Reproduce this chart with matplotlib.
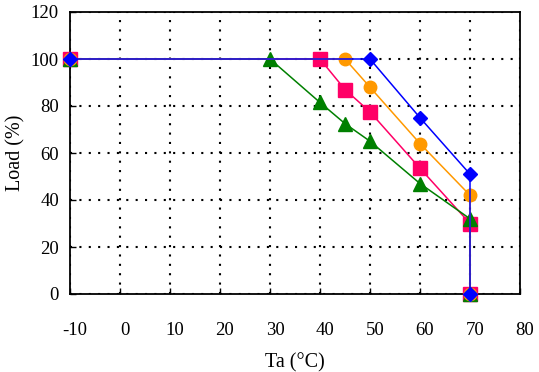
import matplotlib.pyplot as plt
import matplotlib.transforms as mtransforms

plt.rcParams['font.family'] = ['Liberation Serif', 'DejaVu Serif']
plt.rcParams['axes.unicode_minus'] = False

# blue diamonds
ta_blue = [-10, 50, 60, 70, 70]
load_blue = [100, 100, 75, 51, 0]
# orange circles
ta_orange = [-10, 45, 50, 60, 70, 70]
load_orange = [100, 100, 88, 64, 42, 0]
# pink squares
ta_pink = [-10, 40, 45, 50, 60, 70, 70]
load_pink = [100, 100, 87, 77.5, 53.5, 30, 0]
# green triangles
ta_green = [-10, 30, 40, 45, 50, 60, 70, 70]
load_green = [100, 100, 81.5, 72.5, 65, 47, 32, 0]

xticks = [-10, 0, 10, 20, 30, 40, 50, 60, 70, 80]
yticks = [0, 20, 40, 60, 80, 100, 120]

fig = plt.figure(figsize=(5.39, 3.72), dpi=100)
ax = fig.add_axes([70/539, 78/372, 450/539, 282/372])

ax.plot(ta_pink, load_pink, color='#FF0066', lw=1.1, marker='s', ms=9.5, zorder=3, clip_on=False)
ax.plot(ta_green, load_green, color='#008000', lw=1.1, marker='^', ms=10, zorder=4, clip_on=False)
ax.plot(ta_orange, load_orange, color='#FF9900', lw=1.1, marker='o', ms=9, zorder=5, clip_on=False)
ax.plot(ta_blue, load_blue, color='#0000FF', lw=1.1, marker='D', ms=7.5, zorder=6, clip_on=False)

ax.set_xlim(-10, 80)
ax.set_ylim(0, 120)
ax.set_xticks(xticks)
ax.set_yticks(yticks)
ax.grid(True, color='black', linestyle=(0, (1, 3.5)), linewidth=1.5)
ax.set_axisbelow(True)

ax.tick_params(direction='in', length=4, width=1, labelsize=13.5)
ax.tick_params(axis='x', pad=20)
ax.tick_params(axis='y', pad=8)
for sp in ax.spines.values():
    sp.set_linewidth(1.3)

# labels sit a little to the right of their ticks in the original
off = mtransforms.ScaledTranslation(5/100, 0, fig.dpi_scale_trans)
for lab in ax.get_xticklabels():
    lab.set_transform(lab.get_transform() + off)

ax.set_xlabel('Ta (°C)', fontsize=14.5, labelpad=10)
ax.set_ylabel('Load (%)', fontsize=14.5, labelpad=4)

fig.savefig('out.png', dpi=100)
